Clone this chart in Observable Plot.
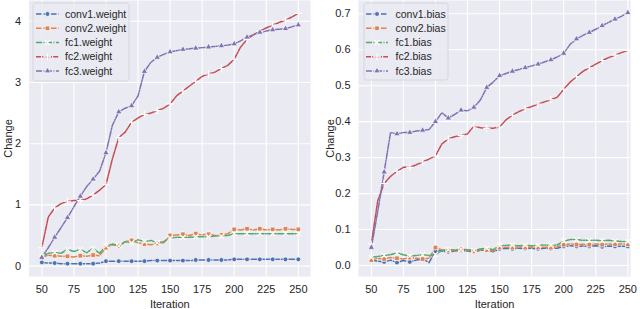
<!DOCTYPE html>
<html>
<head>
<meta charset="utf-8">
<script src="https://cdn.jsdelivr.net/npm/d3@7"></script>
<script src="https://cdn.jsdelivr.net/npm/@observablehq/plot@0.6"></script>
<style>
  html, body { margin: 0; padding: 0; background: #ffffff; }
  #wrap { position: relative; width: 640px; height: 309px; overflow: hidden; }
  #wrap > div { position: absolute; top: 0; }
</style>
</head>
<body>
<div id="wrap"><div id="left" style="left:0"></div><div id="right" style="left:320px"></div></div>
<script>
// ---------- data ----------
const iterations = [50,55,60,65,70,75,80,85,90,95,100,105,110,115,120,125,130,135,140,145,150,155,160,165,170,175,180,185,190,195,200,205,210,215,220,225,230,235,240,245,250];

const xTicks = [50,75,100,125,150,175,200,225,250];
const yTicksWeight = [0,1,2,3,4];
const yTicksBias = [0,0.1,0.2,0.3,0.4,0.5,0.6,0.7];

const weightNames = ["conv1.weight","conv2.weight","fc1.weight","fc2.weight","fc3.weight"];
const biasNames = ["conv1.bias","conv2.bias","fc1.bias","fc2.bias","fc3.bias"];

const conv1Weight = [0.06,0.05,0.05,0.04,0.04,0.04,0.04,0.04,0.04,0.05,0.08,0.08,0.08,0.08,0.08,0.08,0.08,0.09,0.09,0.09,0.09,0.09,0.09,0.09,0.10,0.10,0.10,0.10,0.10,0.10,0.11,0.11,0.11,0.11,0.11,0.11,0.11,0.11,0.11,0.11,0.11];
const conv2Weight = [0.14,0.18,0.17,0.16,0.16,0.15,0.17,0.16,0.18,0.17,0.30,0.35,0.33,0.40,0.42,0.38,0.36,0.35,0.37,0.38,0.50,0.51,0.52,0.50,0.53,0.51,0.52,0.50,0.51,0.53,0.60,0.59,0.61,0.59,0.61,0.59,0.60,0.59,0.61,0.60,0.60];
const fc1Weight = [0.16,0.21,0.22,0.21,0.27,0.24,0.27,0.22,0.29,0.21,0.33,0.36,0.33,0.40,0.38,0.43,0.40,0.42,0.38,0.40,0.46,0.47,0.47,0.47,0.48,0.48,0.48,0.49,0.49,0.50,0.53,0.53,0.53,0.53,0.53,0.53,0.53,0.53,0.53,0.53,0.53];
const fc2Weight = [0.30,0.80,0.95,1.02,1.06,1.07,1.07,1.10,1.16,1.24,1.33,1.75,2.10,2.19,2.35,2.42,2.48,2.50,2.54,2.58,2.65,2.78,2.86,2.94,3.02,3.10,3.14,3.17,3.23,3.28,3.38,3.58,3.70,3.78,3.84,3.89,3.94,3.98,4.02,4.07,4.13];
const fc3Weight = [0.14,0.30,0.47,0.63,0.79,0.97,1.14,1.30,1.42,1.55,1.85,2.30,2.52,2.58,2.62,2.78,3.18,3.33,3.41,3.46,3.50,3.52,3.54,3.55,3.56,3.57,3.58,3.59,3.60,3.61,3.63,3.68,3.74,3.78,3.82,3.84,3.86,3.87,3.88,3.91,3.94];

const conv1Bias = [0.015,0.012,0.010,0.015,0.008,0.014,0.010,0.015,0.018,0.008,0.040,0.040,0.038,0.040,0.042,0.040,0.038,0.042,0.044,0.038,0.046,0.048,0.046,0.048,0.047,0.048,0.046,0.048,0.047,0.048,0.053,0.055,0.053,0.054,0.053,0.055,0.052,0.054,0.053,0.054,0.053];
const conv2Bias = [0.015,0.020,0.018,0.022,0.020,0.018,0.022,0.020,0.018,0.020,0.050,0.043,0.042,0.040,0.045,0.042,0.040,0.044,0.043,0.040,0.050,0.051,0.050,0.052,0.050,0.051,0.050,0.051,0.050,0.052,0.058,0.060,0.058,0.059,0.058,0.060,0.058,0.060,0.059,0.060,0.059];
const fc1Bias = [0.022,0.025,0.028,0.030,0.035,0.030,0.026,0.028,0.030,0.028,0.030,0.042,0.044,0.043,0.045,0.044,0.042,0.046,0.048,0.044,0.055,0.056,0.056,0.055,0.056,0.055,0.056,0.057,0.056,0.057,0.068,0.072,0.072,0.070,0.070,0.070,0.069,0.070,0.068,0.067,0.066];
const fc2Bias = [0.060,0.180,0.228,0.248,0.262,0.273,0.273,0.280,0.288,0.296,0.305,0.338,0.352,0.358,0.362,0.366,0.388,0.383,0.381,0.382,0.385,0.405,0.418,0.428,0.436,0.442,0.449,0.455,0.461,0.468,0.490,0.510,0.525,0.540,0.550,0.560,0.570,0.578,0.585,0.592,0.598];
const fc3Bias = [0.050,0.150,0.260,0.370,0.366,0.370,0.370,0.374,0.376,0.378,0.400,0.425,0.410,0.420,0.432,0.430,0.440,0.460,0.495,0.510,0.528,0.534,0.540,0.545,0.550,0.555,0.560,0.566,0.572,0.580,0.590,0.615,0.630,0.640,0.648,0.657,0.667,0.676,0.685,0.693,0.703];

// ---------- styles ----------
const colors = ["#4c72b0","#dd8452","#55a868","#c44e52","#8172b3"];
const dashes = ["5.5,2","5.5,2","6,1.5,1,1.5","5,1.2,1.2,1.2","6,1.5,1,1.5"];
const symbols = ["circle","square","times","plus","triangle"];
const font = "'Liberation Sans', Arial, Helvetica, sans-serif";

function rowsOf(values) {
  return iterations.map((it, i) => ({it, v: values[i]}));
}

function panel(names, seriesVals, opts) {
  const marks = [
    Plot.frame({fill: "#eaeaf2", stroke: null}),
    Plot.gridX(xTicks, {stroke: "#ffffff", strokeOpacity: 1, strokeWidth: 1.1}),
    Plot.gridY(opts.yTicks, {stroke: "#ffffff", strokeOpacity: 1, strokeWidth: 1.1}),
    Plot.axisX(xTicks, {tickSize: 0, tickPadding: 9, label: null, fontSize: 11, fill: "#262626"}),
    Plot.axisY(opts.yTicks, {tickSize: 0, tickPadding: 8, label: null, tickFormat: opts.fmt, fontSize: 11, fill: "#262626"}),
    Plot.text(["Iteration"], {frameAnchor: "bottom", dy: 28, lineAnchor: "middle", textAnchor: "middle", fontSize: 11, fill: "#262626"}),
    Plot.text(["Change"], {frameAnchor: "left", dx: opts.labelDx, rotate: -90, lineAnchor: "middle", textAnchor: "middle", fontSize: 11, fill: "#262626"})
  ];
  seriesVals.forEach((vals, k) => {
    const rows = rowsOf(vals);
    marks.push(Plot.line(rows, {x: "it", y: "v", stroke: colors[k], strokeWidth: 1.5, strokeDasharray: dashes[k]}));
  });
  seriesVals.forEach((vals, k) => {
    const rows = rowsOf(vals).filter(d => d.it % 10 === 0);
    const stroked = symbols[k] === "times" || symbols[k] === "plus";
    marks.push(Plot.dot(rows, {
      x: "it", y: "v", symbol: symbols[k],
      r: symbols[k] === "square" ? 2.6 : 2.4,
      fill: stroked ? "none" : colors[k],
      stroke: "#ffffff", strokeWidth: stroked ? 1.1 : 0.7
    }));
  });
  const svg = Plot.plot({
    width: 320, height: 309,
    marginTop: 0, marginBottom: 33, marginLeft: opts.marginLeft, marginRight: opts.marginRight,
    x: {domain: opts.xDomain},
    y: {domain: opts.yDomain},
    style: {fontFamily: font, fontSize: "11px", color: "#262626", background: "transparent", overflow: "visible"},
    marks
  });
  // legend
  const g = d3.select(svg).append("g").attr("font-family", font).attr("font-size", 10.5).attr("text-anchor", "start");
  const L = opts.legend;
  g.append("rect").attr("x", L.x).attr("y", L.y).attr("width", L.w).attr("height", L.h)
    .attr("rx", 2.5).attr("fill", "#eaeaf2").attr("fill-opacity", 0.85).attr("stroke", "#d0d0d8").attr("stroke-width", 0.8);
  const symMap = {circle: d3.symbolCircle, square: d3.symbolSquare, times: d3.symbolTimes, plus: d3.symbolPlus, triangle: d3.symbolTriangle};
  names.forEach((name, k) => {
    const yy = L.y0 + k * L.dy;
    g.append("line").attr("x1", L.lx1).attr("x2", L.lx2).attr("y1", yy).attr("y2", yy)
      .attr("stroke", colors[k]).attr("stroke-width", 1.5).attr("stroke-dasharray", dashes[k]);
    const stroked = symbols[k] === "times" || symbols[k] === "plus";
    const r = symbols[k] === "square" ? 2.6 : 2.4;
    g.append("path").attr("transform", `translate(${(L.lx1 + L.lx2) / 2},${yy})`)
      .attr("d", d3.symbol(symMap[symbols[k]], Math.PI * r * r)())
      .attr("fill", stroked ? "none" : colors[k]).attr("stroke", "#ffffff").attr("stroke-width", stroked ? 1.1 : 0.7);
    g.append("text").attr("x", L.tx).attr("y", yy).attr("dy", "0.35em").attr("text-anchor", "start").attr("fill", "#262626").text(name);
  });
  return svg;
}

document.getElementById("left").appendChild(panel(weightNames,
  [conv1Weight, conv2Weight, fc1Weight, fc2Weight, fc3Weight],
  {xDomain: [40, 259.5], yDomain: [-0.17, 4.34], yTicks: yTicksWeight, fmt: d3.format("d"),
   marginLeft: 28.5, marginRight: 10, labelDx: -21,
   legend: {x: 33, y: 3, w: 96, h: 78, y0: 14, dy: 14.25, lx1: 36, lx2: 59, tx: 65}}));

document.getElementById("right").appendChild(panel(biasNames,
  [conv1Bias, conv2Bias, fc1Bias, fc2Bias, fc3Bias],
  {xDomain: [40, 252.1], yDomain: [-0.0306, 0.737], yTicks: yTicksBias, fmt: d3.format(".1f"),
   marginLeft: 38, marginRight: 10, labelDx: -28,
   legend: {x: 44, y: 3, w: 84, h: 77, y0: 14, dy: 14.25, lx1: 46, lx2: 68, tx: 75.5}}));
</script>
</body>
</html>
